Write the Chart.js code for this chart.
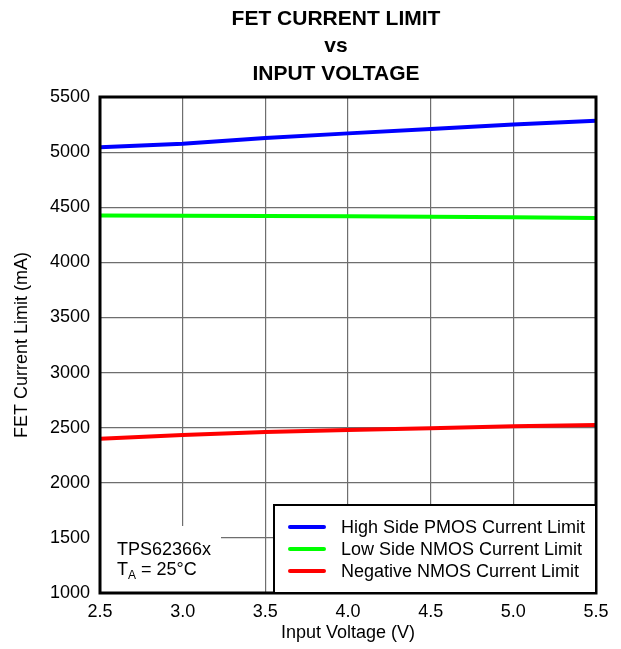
<!DOCTYPE html>
<html>
<head>
<meta charset="utf-8">
<script src="https://cdn.jsdelivr.net/npm/chart.js@4.4.0/dist/chart.umd.min.js"></script>
<style>
  html, body { margin: 0; padding: 0; background: #fff; }
  #wrap { width: 621px; height: 649px; }
</style>
</head>
<body>
<div id="wrap"><canvas id="fetChart" width="621" height="649"></canvas></div>
<script>
const titleLines = ['FET CURRENT LIMIT', 'vs', 'INPUT VOLTAGE'];
const voltages = [2.5, 3.0, 3.5, 4.0, 4.5, 5.0, 5.5];
const highSidePmos = [5045, 5076, 5127, 5170, 5209, 5251, 5285];
const lowSideNmos = [4425, 4422, 4420, 4418, 4414, 4409, 4403];
const negativeNmos = [2400, 2434, 2461, 2479, 2494, 2512, 2524];
const seriesNames = ['High Side PMOS Current Limit', 'Low Side NMOS Current Limit', 'Negative NMOS Current Limit'];
const seriesColors = ['#0000ff', '#00ff00', '#ff0000'];
const noteLines = ['TPS62366x', 'T_A = 25°C'];

const FONT = '"Liberation Sans", Arial, sans-serif';

const toPoints = (values) => values.map((v, i) => ({ x: voltages[i], y: v }));

// titre en trois lignes, cadre, annotation et légende dessinés à la main
const decorPlugin = {
  id: 'decor',
  beforeDatasetsDraw(chart) {
    const ctx = chart.ctx;
    const area = chart.chartArea;
    // fond blanc de l'annotation (cache la grille)
    ctx.save();
    ctx.fillStyle = '#fff';
    ctx.fillRect(area.left, area.bottom - 67, 121, 67);
    ctx.restore();
  },
  afterDraw(chart) {
    const ctx = chart.ctx;
    const area = chart.chartArea;
    ctx.save();

    // titre
    ctx.fillStyle = '#000';
    ctx.font = 'bold 21px ' + FONT;
    ctx.textAlign = 'center';
    ctx.textBaseline = 'middle';
    titleLines.forEach((t, i) => ctx.fillText(t, 336, 19 + i * 27.5));

    // cadre
    ctx.strokeStyle = '#000';
    ctx.lineWidth = 3;
    ctx.strokeRect(area.left, area.top, area.right - area.left, area.bottom - area.top);

    // annotation
    ctx.font = '18px ' + FONT;
    ctx.textAlign = 'left';
    ctx.fillText(noteLines[0], area.left + 17, area.bottom - 43);
    const parts = noteLines[1].split(' = ');
    const sym = parts[0].split('_');
    let x = area.left + 17;
    const y = area.bottom - 23;
    ctx.fillText(sym[0], x, y);
    x += ctx.measureText(sym[0]).width;
    ctx.font = '12px ' + FONT;
    ctx.fillText(sym[1], x, y + 6);
    x += ctx.measureText(sym[1]).width;
    ctx.font = '18px ' + FONT;
    ctx.fillText(' = ' + parts[1], x, y);

    // légende
    const lx = area.right - 322;
    const ly = area.bottom - 88;
    ctx.fillStyle = '#fff';
    ctx.fillRect(lx, ly, area.right - lx, area.bottom - ly);
    ctx.strokeStyle = '#000';
    ctx.lineWidth = 2;
    ctx.strokeRect(lx, ly, area.right - lx, area.bottom - ly);
    seriesNames.forEach((name, i) => {
      const ry = ly + 22 + i * 22;
      ctx.strokeStyle = seriesColors[i];
      ctx.lineWidth = 4;
      ctx.lineCap = 'round';
      ctx.beginPath();
      ctx.moveTo(lx + 16, ry);
      ctx.lineTo(lx + 50, ry);
      ctx.stroke();
      ctx.fillStyle = '#000';
      ctx.font = '18px ' + FONT;
      ctx.fillText(name, lx + 67, ry + 1);
    });
    ctx.restore();
  }
};

new Chart('fetChart', {
  type: 'line',
  data: {
    datasets: [
      { label: seriesNames[0], data: toPoints(highSidePmos), borderColor: seriesColors[0] },
      { label: seriesNames[1], data: toPoints(lowSideNmos), borderColor: seriesColors[1] },
      { label: seriesNames[2], data: toPoints(negativeNmos), borderColor: seriesColors[2] }
    ].map(d => Object.assign(d, { borderWidth: 4, pointRadius: 0, tension: 0, fill: false }))
  },
  options: {
    responsive: false,
    animation: false,
    layout: { padding: { top: 97, right: 25, left: 0, bottom: 0 } },
    plugins: {
      legend: { display: false },
      tooltip: { enabled: false },
      title: { display: false }
    },
    scales: {
      x: {
        type: 'linear',
        min: 2.5,
        max: 5.5,
        afterFit: (scale) => { scale.height = 56; },
        ticks: {
          stepSize: 0.5,
          color: '#000',
          font: { family: FONT, size: 18 },
          padding: 8,
          maxRotation: 0,
          callback: (v) => v.toFixed(1)
        },
        grid: { color: '#6e6e6e', lineWidth: 1.2, drawTicks: false },
        border: { display: false },
        title: {
          display: true,
          text: 'Input Voltage (V)',
          color: '#000',
          font: { family: FONT, size: 18 },
          padding: { top: 0, bottom: 5 }
        }
      },
      y: {
        min: 1000,
        max: 5500,
        afterFit: (scale) => { scale.width = 100; },
        ticks: {
          stepSize: 500,
          color: '#000',
          font: { family: FONT, size: 18 },
          padding: 10,
          callback: (v) => String(v)
        },
        grid: { color: '#6e6e6e', lineWidth: 1.2, drawTicks: false },
        border: { display: false },
        title: {
          display: true,
          text: 'FET Current Limit (mA)',
          color: '#000',
          font: { family: FONT, size: 18 },
          padding: { top: 11, bottom: 0 }
        }
      }
    }
  },
  plugins: [decorPlugin]
});
</script>
</body>
</html>
